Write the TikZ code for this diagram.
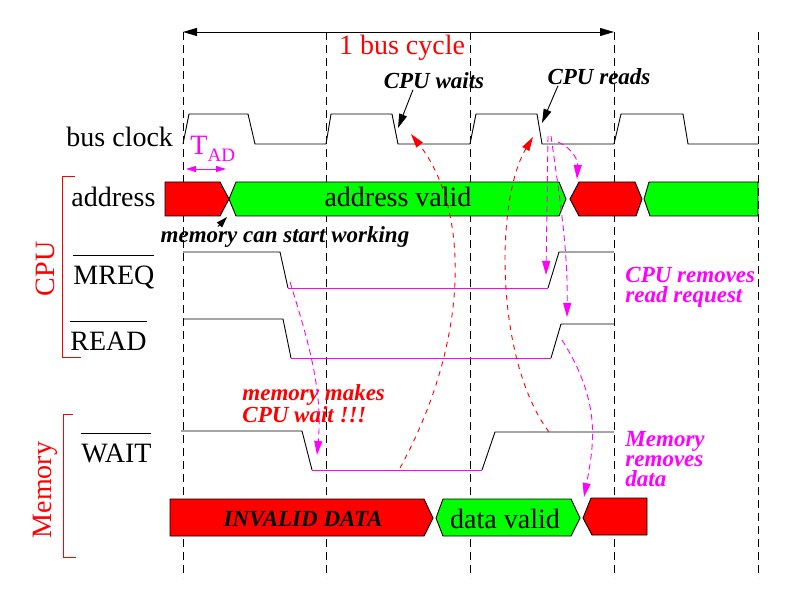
\documentclass[tikz,border=0pt]{standalone}
\usepackage{fontspec}
\setmainfont{Liberation Serif}
\usetikzlibrary{arrows.meta}

\definecolor{pinkline}{RGB}{255,0,255}
\newcommand\sigbar[1]{$\overline{\rule{0pt}{27pt}\mbox{#1}}$}

\begin{document}
\begin{tikzpicture}[x=1pt,y=-1pt,line width=0.9pt]
  \tikzstyle{lbl} = [inner sep=0pt, font=\fontsize{28}{30}\selectfont];
  \tikzstyle{note} = [inner sep=0pt, font=\fontsize{23}{20}\selectfont\bfseries\itshape, align=left];
  \tikzstyle{gridline} = [dash pattern=on 8pt off 5pt, line width=0.8pt];
  \tikzstyle{busred} = [draw, fill=red];
  \tikzstyle{busgreen} = [draw, fill=green];
  \tikzstyle{arrowtip} = [-{Triangle[length=14pt,width=8pt]}];
  \tikzstyle{cause} = [red, dash pattern=on 5pt off 5pt, arrowtip];
  \tikzstyle{effect} = [pinkline, dash pattern=on 6pt off 4pt, arrowtip];

  \useasboundingbox (0,0) rectangle (792,612);

  \foreach \x in {183,326,470,614,758}
    \draw[gridline] (\x,32) -- (\x,578);

  \coordinate (c0) at (183,32);
  \coordinate (c1) at (614,32);
  \draw[{Triangle[length=14pt,width=8pt]}-{Triangle[length=14pt,width=8pt]}] (c0) -- (c1);
  \node[lbl, red, anchor=base] (cyc) at (402,55) {1 bus cycle};

  \node[lbl, anchor=base west] (clk) at (66,147) {bus clock};
  \node[lbl, anchor=base west] (addr) at (71,207) {address};
  \node[lbl, anchor=base west] (mreq) at (73,284) {\sigbar{MREQ}};
  \node[lbl, anchor=base west] (read) at (70,350) {\sigbar{READ}};
  \node[lbl, anchor=base west] (wait) at (81,462) {\sigbar{WAIT}};

  \draw[red] (75,176) -- (62,176) -- (62,357) -- (81,357);
  \draw[red] (73,414) -- (63,414) -- (63,557) -- (76,557);
  \node[lbl, red, rotate=90] (cpu) at (45,269) {CPU};
  \node[lbl, red, rotate=90] (mem) at (45,490) {Memory};

  \draw (183,144) -- (189,114) -- (248,114) -- (255,144) -- (326,144) -- (331,114)
    -- (392,114) -- (398,144) -- (470,144) -- (476,114) -- (537,114) -- (542,144)
    -- (614,144) -- (621,114) -- (683,114) -- (688,144) -- (758,144);

  \node[lbl, pinkline, anchor=base west] (tad) at (190,155) {T\raisebox{-7pt}{\fontsize{19}{19}\selectfont AD}};
  \coordinate (ta0) at (186,169);
  \coordinate (ta1) at (226,169);
  \draw[pinkline, {Triangle[length=10pt,width=6pt]}-{Triangle[length=10pt,width=6pt]}] (ta0) -- (ta1);

  \filldraw[busred] (165,182) -- (220,182) -- (229,199) -- (220,216) -- (165,216) -- cycle;
  \filldraw[busgreen] (236,182) -- (559,182) -- (566,199) -- (559,216) -- (236,216) -- (229,199) -- cycle;
  \filldraw[busred] (579,182) -- (635,182) -- (642,199) -- (636,216) -- (579,216) -- (570,199) -- cycle;
  \filldraw[busgreen] (649,182) -- (758,182) -- (758,216) -- (650,216) -- (644,199) -- cycle;
  \node[lbl, anchor=base] (av) at (398,207) {address valid};

  \draw (183,252) -- (280,252) -- (288,288);
  \draw[pinkline] (288,288) -- (548,288);
  \draw (548,288) -- (559,252) -- (614,252);

  \draw (183,319) -- (283,319) -- (291,358);
  \draw[pinkline] (291,358) -- (551,358);
  \draw (551,358) -- (561,324) -- (614,324);

  \draw (181,431) -- (302,431) -- (312,470);
  \draw[pinkline] (312,470) -- (482,470);
  \draw (482,470) -- (495,432) -- (614,432);

  \filldraw[busred] (170,499) -- (424,499) -- (433,518) -- (424,536) -- (170,536) -- cycle;
  \filldraw[busgreen] (443,499) -- (571,499) -- (580,518) -- (571,536) -- (443,536) -- (436,518) -- cycle;
  \filldraw[busred] (591,498) -- (647,498) -- (647,535) -- (592,535) -- (583,518) -- cycle;
  \node[note, anchor=base] (inv) at (303,526) {INVALID DATA};
  \node[lbl, anchor=base] (dv) at (505,528) {data valid};

  \node[note, anchor=base] (waits) at (434,89) {CPU waits};
  \node[note, anchor=base] (reads) at (599,85) {CPU reads};
  \node[note, anchor=base] (start) at (285,243) {memory can start working};
  \node[note, red, anchor=base west] (makes) at (242,422) {memory makes\\CPU wait !!!};
  \node[note, pinkline, anchor=base west] (removes) at (625,302) {CPU removes\\read request};
  \node[note, pinkline, anchor=base west] (memrm) at (625,486) {Memory\\removes\\data};

  \coordinate (wt) at (398,128);
  \coordinate (rt) at (542,123);
  \coordinate (cross) at (227,217);
  \draw[arrowtip] ([xshift=-21pt]waits.south) -- (wt);
  \draw[arrowtip] ([xshift=-41pt]reads.south) -- (rt);
  \draw[-{Triangle[length=11pt,width=7pt]}] ([xshift=-67pt]start.north) -- (cross);

  \coordinate (wl) at (400,468);
  \coordinate (cw) at (411,134);
  \coordinate (wh) at (549,432);
  \coordinate (cr) at (533,137);
  \draw[cause] (wl) .. controls (470,340) and (470,210) .. (cw);
  \draw[cause] (wh) .. controls (495,360) and (495,200) .. (cr);

  \coordinate (mf) at (290,282);
  \coordinate (wf) at (317,455);
  \coordinate (ck) at (548,136);
  \coordinate (mr) at (546,275);
  \coordinate (rr) at (567,317);
  \coordinate (an) at (577,179);
  \coordinate (rs) at (562,340);
  \coordinate (dn) at (584,497);
  \draw[effect] (mf) .. controls (308,340) and (323,390) .. (wf);
  \draw[effect] (ck) -- (mr);
  \draw[effect] ([xshift=3pt]ck) .. controls (560,200) and (568,250) .. (rr);
  \draw[effect] (558,142) .. controls (572,148) and (578,160) .. (an);
  \draw[effect] (rs) .. controls (600,400) and (595,440) .. (dn);
\end{tikzpicture}
\end{document}
